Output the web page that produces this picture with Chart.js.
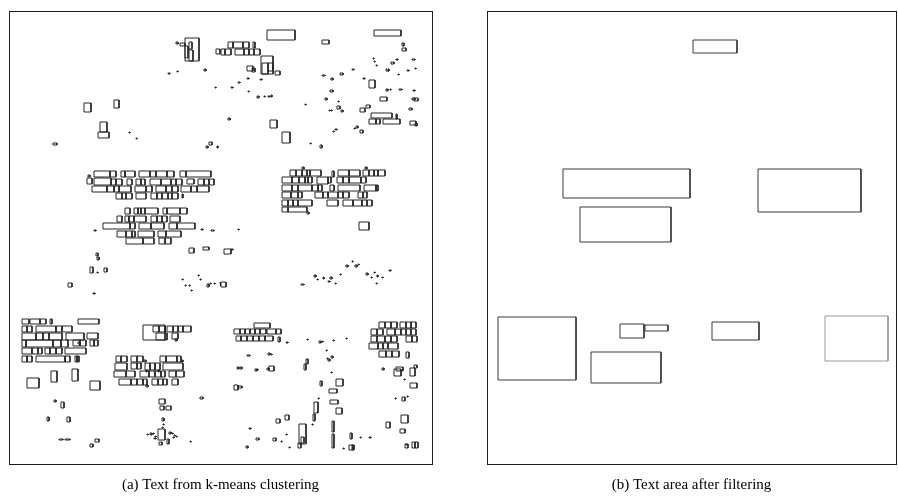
<!DOCTYPE html>
<html>
<head>
<meta charset="utf-8">
<script src="https://cdn.jsdelivr.net/npm/chart.js@4/dist/chart.umd.min.js"></script>
<style>
    html, body { margin: 0; padding: 0; background: #fff; }
    .panel { position: absolute; top: 0; width: 449px; height: 502px; }
</style>
</head>
<body>
<div class="panel" style="left:0"><canvas id="chartA"></canvas></div>
<div class="panel" style="left:449px"><canvas id="chartB"></canvas></div>
<script>
    // page extents (width, height) of each panel, in page units
    var pageA = [423, 453];
    var pageB = [409, 453];

    var captionA = '(a) Text from k-means clustering';
    var captionB = '(b) Text area after filtering';

    // text boxes found by k-means clustering: [x, y, w, h]
    var kmeansBoxes = [
        // top left
        [176, 27, 14, 23], [180, 31, 3, 7], [180, 39, 4, 11], [176, 35, 3, 12], [171, 32, 5, 3], [167, 31, 2, 2],
        [207, 38, 4, 5], [159, 62, 2, 1], [168, 60, 1, 1], [195, 58, 2, 2], [206, 76, 1, 1],
        [75, 92, 7, 9], [105, 89, 5, 8], [91, 111, 7, 10], [89, 121, 11, 6], [120, 121, 1, 1], [127, 127, 1, 1],
        [44, 132, 4, 2], [197, 135, 2, 2], [200, 131, 3, 3], [208, 135, 1, 2],
        // top right
        [258, 19, 28, 10], [365, 19, 27, 6], [219, 31, 5, 6], [224, 31, 10, 6], [234, 31, 6, 6], [244, 31, 2, 6],
        [212, 38, 4, 6], [216, 38, 6, 6], [226, 38, 9, 6], [235, 38, 5, 6], [240, 38, 5, 6], [245, 38, 6, 6],
        [252, 45, 12, 18], [253, 52, 6, 11], [259, 52, 5, 8], [266, 60, 5, 4], [238, 55, 6, 5], [243, 57, 3, 4],
        [313, 29, 7, 4], [393, 32, 2, 3], [393, 37, 4, 3],
        [364, 47, 1, 1], [365, 50, 1, 1], [367, 54, 1, 1], [382, 51, 3, 2], [387, 48, 2, 1], [403, 48, 3, 1],
        [377, 58, 3, 2], [379, 59, 1, 1], [389, 63, 1, 1], [398, 59, 2, 1], [406, 57, 1, 1],
        [360, 69, 6, 8], [377, 78, 2, 2], [381, 78, 1, 1], [390, 78, 3, 1], [404, 79, 2, 1],
        [371, 86, 7, 4], [403, 87, 3, 2], [405, 87, 4, 3], [400, 97, 3, 2], [357, 94, 4, 3], [351, 97, 5, 4],
        [362, 102, 21, 5], [387, 103, 1, 5], [360, 108, 7, 5], [367, 108, 4, 5], [374, 108, 17, 5],
        [401, 110, 6, 4], [406, 112, 2, 3], [351, 119, 3, 3], [347, 115, 2, 2], [345, 117, 1, 1],
        [326, 118, 2, 1], [324, 120, 1, 1], [261, 109, 7, 8], [273, 121, 8, 11], [311, 134, 2, 3], [301, 132, 1, 1],
        [229, 71, 2, 1], [238, 67, 2, 1], [251, 68, 2, 1], [222, 76, 2, 1], [239, 80, 1, 1], [248, 85, 2, 2],
        [255, 85, 1, 1], [259, 85, 2, 1], [262, 84, 1, 2], [219, 107, 2, 2],
        [313, 64, 3, 1], [322, 67, 2, 2], [331, 62, 3, 2], [343, 58, 2, 1], [354, 67, 2, 1], [321, 79, 3, 2],
        [316, 87, 2, 2], [329, 90, 1, 1], [296, 93, 1, 1], [328, 95, 3, 3], [322, 99, 1, 1], [332, 99, 2, 2], [320, 99, 1, 1],
        // middle left cluster
        [85, 160, 16, 6], [101, 160, 6, 6], [112, 160, 4, 6], [116, 160, 10, 6], [130, 160, 11, 6], [141, 160, 6, 6],
        [147, 160, 11, 6], [158, 160, 7, 6], [171, 160, 6, 6], [177, 160, 25, 6], [79, 164, 2, 2],
        [78, 167, 5, 6], [85, 167, 17, 7], [102, 168, 5, 6], [107, 168, 6, 6], [118, 168, 5, 6], [127, 168, 5, 6],
        [132, 168, 4, 6], [141, 168, 11, 6], [152, 168, 10, 6], [162, 168, 5, 6], [167, 168, 6, 6], [178, 168, 7, 5],
        [189, 168, 6, 6], [195, 168, 5, 6], [200, 168, 5, 6],
        [83, 175, 15, 6], [98, 175, 7, 6], [105, 175, 5, 6], [110, 175, 12, 6], [126, 175, 11, 6], [137, 175, 6, 6],
        [147, 175, 10, 6], [157, 175, 6, 6], [163, 175, 6, 6], [172, 175, 10, 6], [182, 175, 6, 6], [188, 175, 12, 6],
        [107, 182, 6, 6], [113, 182, 4, 6], [117, 182, 6, 6], [127, 182, 10, 6], [142, 182, 6, 6], [148, 182, 5, 6],
        [153, 182, 6, 6], [159, 182, 4, 6], [163, 182, 6, 6], [173, 183, 1, 4],
        [116, 197, 5, 6], [125, 197, 4, 6], [129, 197, 3, 6], [132, 197, 4, 6], [136, 197, 13, 6], [154, 197, 4, 6],
        [158, 197, 13, 6], [171, 197, 7, 6],
        [108, 205, 5, 6], [116, 205, 4, 6], [120, 205, 5, 6], [125, 205, 12, 6], [142, 205, 6, 6], [148, 205, 5, 6],
        [153, 205, 5, 6], [161, 205, 10, 6],
        [94, 212, 27, 6], [121, 212, 5, 6], [130, 212, 12, 6], [142, 212, 13, 6], [160, 212, 8, 6], [168, 212, 18, 6],
        [108, 220, 9, 6], [117, 220, 6, 6], [123, 220, 3, 6], [129, 220, 16, 6], [149, 220, 8, 6], [157, 220, 15, 6],
        [117, 227, 17, 6], [134, 227, 11, 6], [150, 227, 6, 6], [156, 227, 6, 6],
        [85, 219, 2, 1], [192, 218, 2, 1], [202, 219, 3, 1], [180, 237, 5, 5], [194, 236, 6, 3],
        [87, 242, 2, 3], [88, 246, 2, 3], [81, 256, 3, 6], [88, 261, 1, 1], [95, 257, 3, 4], [59, 272, 4, 4], [84, 282, 2, 1],
        [173, 268, 1, 1], [189, 264, 1, 1], [191, 268, 1, 1], [176, 274, 1, 1], [180, 274, 1, 1], [182, 279, 1, 1],
        [198, 273, 2, 3], [201, 272, 1, 1], [205, 272, 1, 1], [211, 271, 1, 4],
        // middle right cluster
        [281, 159, 6, 6], [287, 159, 6, 6], [293, 159, 5, 6], [298, 159, 3, 6], [301, 159, 11, 6], [323, 160, 2, 6],
        [329, 159, 11, 6], [340, 159, 11, 6], [354, 159, 6, 6], [360, 159, 5, 6], [365, 159, 4, 6], [369, 159, 7, 6],
        [293, 156, 2, 2], [356, 156, 2, 2],
        [273, 166, 10, 6], [283, 166, 7, 6], [290, 166, 6, 6], [296, 166, 3, 6], [299, 166, 4, 6], [308, 166, 11, 7],
        [319, 166, 3, 6], [328, 166, 6, 6], [334, 166, 6, 6], [340, 166, 12, 6], [352, 166, 5, 6],
        [273, 174, 10, 6], [283, 174, 6, 6], [289, 174, 14, 6], [303, 174, 6, 6], [309, 174, 4, 6], [321, 174, 4, 6],
        [329, 174, 22, 6], [355, 174, 12, 6], [367, 174, 2, 6],
        [273, 181, 9, 6], [282, 181, 7, 6], [289, 181, 4, 6], [306, 181, 8, 6], [314, 181, 5, 6], [319, 181, 10, 6],
        [329, 181, 5, 6], [334, 181, 6, 6], [349, 181, 5, 6], [354, 181, 4, 6],
        [273, 189, 6, 6], [279, 189, 5, 6], [284, 189, 5, 6], [289, 189, 14, 6], [318, 189, 11, 6], [334, 189, 10, 6],
        [344, 189, 9, 6], [353, 189, 5, 6], [358, 189, 5, 6],
        [273, 196, 6, 5], [279, 196, 19, 5], [298, 201, 2, 2], [350, 211, 10, 8], [229, 218, 1, 1],
        [215, 238, 7, 5], [222, 238, 2, 1], [212, 271, 5, 5],
        [305, 264, 2, 2], [308, 268, 1, 1], [314, 266, 1, 2], [319, 270, 2, 1], [321, 266, 2, 2], [326, 272, 1, 1],
        [331, 263, 1, 1], [337, 254, 2, 2], [343, 250, 1, 1], [346, 254, 2, 2], [349, 253, 1, 1], [357, 262, 2, 2],
        [362, 266, 1, 1], [365, 261, 1, 1], [368, 264, 1, 2], [373, 266, 1, 1], [380, 259, 2, 1], [367, 272, 1, 1], [292, 273, 3, 1],
        // bottom left
        [13, 308, 7, 5], [21, 308, 10, 5], [31, 308, 6, 5], [41, 308, 2, 5], [69, 308, 21, 5],
        [13, 315, 5, 6], [18, 315, 5, 6], [27, 315, 20, 6], [47, 315, 6, 6], [53, 315, 10, 6],
        [134, 314, 22, 15], [144, 315, 6, 6], [150, 315, 6, 6], [158, 315, 6, 6], [164, 315, 5, 6], [169, 315, 5, 6],
        [174, 315, 8, 6], [147, 322, 11, 7], [163, 322, 6, 6], [166, 328, 2, 2],
        [13, 322, 14, 7], [27, 322, 7, 7], [34, 322, 6, 7], [40, 322, 13, 7], [57, 322, 18, 7], [78, 322, 11, 6],
        [13, 329, 4, 7], [17, 329, 27, 7], [44, 329, 8, 7], [52, 329, 7, 7], [64, 329, 7, 6], [71, 329, 6, 6],
        [69, 331, 2, 2], [81, 329, 4, 6], [85, 329, 4, 6],
        [13, 337, 10, 6], [23, 337, 6, 6], [29, 337, 4, 6], [36, 337, 5, 6], [41, 337, 6, 6], [47, 337, 6, 6], [56, 337, 21, 6],
        [13, 345, 5, 6], [18, 345, 5, 6], [27, 345, 29, 6], [56, 345, 5, 6], [66, 345, 2, 6], [68, 345, 2, 6],
        [107, 345, 5, 6], [112, 345, 6, 6], [122, 345, 6, 6], [128, 345, 6, 6], [135, 349, 2, 2],
        [151, 345, 6, 6], [157, 345, 11, 6], [168, 345, 4, 6], [172, 349, 2, 2],
        [106, 352, 12, 7], [122, 352, 6, 6], [128, 352, 4, 6], [136, 352, 5, 7], [141, 352, 5, 7], [146, 352, 5, 7], [154, 352, 20, 7],
        [105, 360, 12, 6], [117, 360, 9, 6], [131, 360, 9, 6], [140, 360, 6, 6], [146, 360, 6, 6], [152, 360, 4, 6],
        [160, 360, 7, 6], [167, 360, 8, 6], [137, 359, 1, 2], [149, 359, 1, 2],
        [110, 368, 12, 6], [122, 368, 6, 6], [128, 368, 6, 6], [134, 368, 4, 6], [137, 374, 2, 2],
        [143, 368, 6, 6], [149, 368, 5, 6], [154, 368, 4, 6], [163, 368, 6, 6],
        [18, 367, 12, 10], [42, 360, 6, 11], [63, 358, 6, 12], [81, 370, 10, 9],
        [52, 391, 3, 6], [45, 389, 2, 2], [38, 406, 2, 4], [58, 406, 3, 5], [50, 428, 4, 1], [56, 428, 5, 1],
        [81, 433, 3, 3], [86, 428, 4, 3],
        [150, 388, 6, 5], [151, 395, 4, 4], [157, 395, 5, 4], [153, 407, 2, 3], [154, 413, 1, 1], [153, 416, 1, 1],
        [149, 418, 7, 11], [150, 431, 3, 3], [158, 428, 2, 5],
        [138, 423, 1, 1], [141, 422, 2, 2], [144, 422, 1, 1], [146, 425, 1, 1], [145, 427, 2, 1],
        [160, 421, 2, 2], [163, 422, 1, 1], [165, 424, 1, 1], [167, 425, 1, 1], [164, 426, 1, 1],
        [191, 386, 3, 2], [181, 430, 1, 1],
        // bottom right
        [245, 312, 16, 5],
        [225, 318, 6, 5], [231, 318, 5, 5], [236, 318, 5, 5], [241, 318, 5, 5], [246, 318, 5, 5], [251, 318, 6, 5],
        [258, 318, 9, 5], [267, 318, 5, 5],
        [227, 325, 5, 5], [232, 325, 6, 5], [238, 325, 6, 5], [244, 325, 6, 5], [250, 325, 6, 5], [256, 325, 8, 5], [269, 326, 2, 5],
        [277, 331, 2, 1], [298, 328, 1, 1], [310, 330, 2, 2], [313, 330, 1, 1], [324, 329, 1, 1], [337, 327, 1, 1], [317, 339, 1, 1],
        [238, 344, 3, 1], [259, 342, 2, 2], [262, 343, 1, 1], [228, 356, 2, 2], [231, 356, 2, 2], [246, 358, 2, 2], [248, 358, 1, 1],
        [260, 355, 5, 5], [258, 357, 2, 2], [225, 374, 4, 5], [229, 375, 4, 2],
        [297, 348, 2, 5], [295, 353, 2, 6], [319, 348, 2, 2], [322, 345, 2, 2], [318, 347, 1, 1], [322, 361, 1, 1],
        [311, 370, 2, 5], [327, 368, 7, 7], [320, 378, 8, 4], [321, 389, 8, 4], [327, 397, 6, 6], [309, 387, 1, 1],
        [305, 391, 4, 11], [304, 403, 2, 7], [303, 413, 1, 1], [290, 413, 7, 20], [292, 426, 3, 6], [289, 432, 3, 5],
        [323, 410, 2, 11], [323, 423, 2, 14], [267, 408, 4, 4], [276, 404, 4, 5], [277, 423, 1, 1], [272, 430, 1, 1],
        [240, 417, 2, 1], [247, 427, 3, 2], [264, 427, 3, 3], [237, 435, 2, 2], [280, 436, 1, 1],
        [334, 437, 1, 1], [340, 434, 4, 5], [343, 434, 2, 5], [341, 422, 2, 6], [351, 426, 1, 1], [360, 426, 2, 1],
        [370, 311, 6, 6], [376, 311, 6, 6], [382, 311, 6, 6], [391, 311, 6, 6], [397, 311, 5, 6], [402, 311, 5, 6],
        [362, 318, 6, 6], [368, 318, 6, 6], [378, 318, 8, 6], [386, 318, 6, 6], [392, 318, 5, 6], [397, 318, 5, 6], [402, 318, 5, 6],
        [362, 325, 6, 6], [368, 325, 8, 6], [376, 325, 6, 6], [382, 325, 6, 6], [397, 325, 6, 6], [403, 325, 5, 6],
        [360, 332, 9, 6], [369, 332, 5, 6], [374, 332, 5, 6], [379, 332, 10, 6],
        [370, 340, 7, 6], [377, 340, 6, 6], [383, 340, 7, 6], [397, 341, 3, 6],
        [373, 357, 2, 2], [385, 358, 7, 7], [387, 356, 7, 4], [401, 357, 5, 8], [405, 354, 3, 3], [395, 368, 1, 1],
        [401, 372, 7, 5], [393, 386, 3, 4], [398, 385, 1, 1], [386, 387, 1, 1], [392, 404, 7, 8], [377, 411, 4, 6],
        [391, 418, 5, 4], [403, 431, 3, 6], [406, 431, 3, 6], [396, 433, 3, 4], [397, 433, 1, 1]
    ];

    // text areas kept after filtering: [x, y, w, h]
    var filteredBoxes = [
        [206, 29, 44, 13], [76, 158, 127, 29], [271, 158, 103, 43], [93, 196, 91, 35],
        [11, 306, 78, 63], [133, 313, 24, 14], [158, 314, 23, 6], [104, 341, 70, 31], [225, 311, 47, 18]
    ];
    var filteredBoxesFaint = [
        [338, 305, 63, 45]
    ];

    // each box becomes a closed outline; NaN breaks the line between boxes
    function outline(boxes) {
        var pts = [];
        boxes.forEach(function (b) {
            var x = b[0], y = b[1], w = b[2], h = b[3];
            pts.push({ x: x, y: y }, { x: x + w, y: y }, { x: x + w, y: y + h },
                     { x: x, y: y + h }, { x: x, y: y }, { x: NaN, y: NaN });
        });
        return pts;
    }

    function frameAxis(axis, position, max, reverse) {
        return {
            type: 'linear', axis: axis, position: position,
            min: 0, max: max, reverse: !!reverse,
            ticks: { display: false },
            grid: { display: false, drawTicks: false },
            border: { display: true, color: '#1e1e1e', width: 1 }
        };
    }

    function panel(id, page, sets, caption, padding) {
        return new Chart(document.getElementById(id), {
            type: 'scatter',
            data: {
                datasets: sets.map(function (s) {
                    return {
                        data: outline(s.boxes),
                        showLine: true,
                        spanGaps: false,
                        borderColor: s.color,
                        borderWidth: 1,
                        pointRadius: 0,
                        tension: 0,
                        fill: false
                    };
                })
            },
            options: {
                responsive: true,
                maintainAspectRatio: false,
                animation: false,
                events: [],
                layout: { padding: padding, autoPadding: false },
                scales: {
                    x: frameAxis('x', 'bottom', page[0]),
                    x2: frameAxis('x', 'top', page[0]),
                    y: frameAxis('y', 'left', page[1], true),
                    y2: frameAxis('y', 'right', page[1], true)
                },
                plugins: {
                    legend: { display: false },
                    tooltip: { enabled: false },
                    title: {
                        display: true,
                        position: 'bottom',
                        text: caption,
                        color: '#000',
                        font: { family: '"Liberation Serif", "DejaVu Serif", serif', size: 15, weight: 'normal' },
                        padding: { top: 12, bottom: 8 }
                    }
                }
            }
        });
    }

    panel('chartA', pageA, [{ boxes: kmeansBoxes, color: '#262626' }], captionA,
          { left: 9, right: 17, top: 11, bottom: 0 });
    panel('chartB', pageB, [{ boxes: filteredBoxes, color: '#3a3a3a' }, { boxes: filteredBoxesFaint, color: '#9a9a9a' }],
          captionB, { left: 38, right: 2, top: 11, bottom: 0 });
</script>
</body>
</html>
